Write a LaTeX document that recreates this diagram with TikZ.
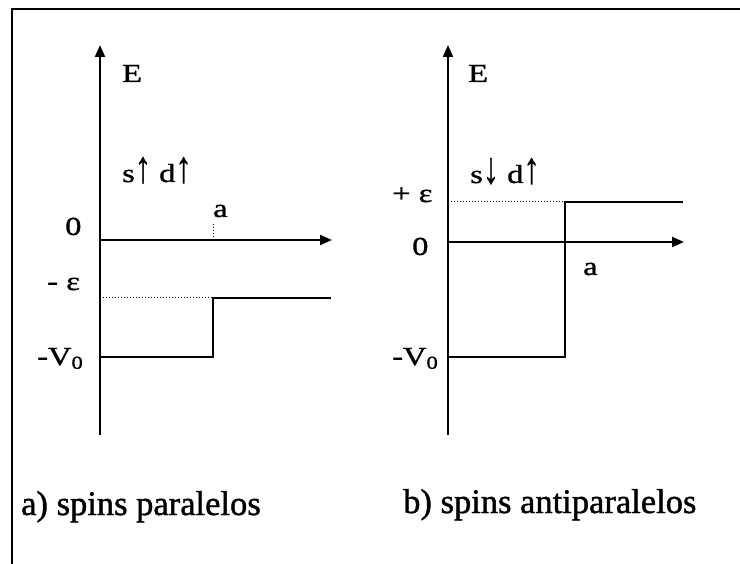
\documentclass[tikz,border=0pt]{standalone}
\usepackage{fontspec}
\setmainfont[FakeBold=1]{Liberation Serif}
\newfontfamily\lblfont[FakeStretch=1.25,FakeBold=1.2]{Liberation Serif}
\newfontfamily\capfont[FakeBold=1.2]{Liberation Serif}
\usetikzlibrary{arrows.meta}
\newcommand{\upa}{\scalebox{1}[1.7]{↑}}
\newcommand{\dna}{\scalebox{1}[1.7]{↓}}
\begin{document}
\begin{tikzpicture}[x=1pt,y=-1pt,
  axis/.style={line width=2pt,-{Triangle[length=12pt,width=10pt]}},
  level/.style={line width=2.6pt},
  guide/.style={line width=1pt,dotted},
  lbl/.style={inner sep=0pt,anchor=base west,font=\lblfont\fontsize{26}{30}\selectfont},
  caption/.style={inner sep=0pt,anchor=base west,font=\capfont\fontsize{34.5}{40}\selectfont}]
\useasboundingbox (0,0) rectangle (740,564);
% frame
\draw[line width=2.6pt] (12,564) -- (12,9) -- (740,9);
% ---------- left panel ----------
\coordinate (Lo) at (100,240);
\coordinate (Lb) at (100,435);
\coordinate (Lt) at (100,45);
\coordinate (Lx) at (332,240);
\coordinate (La0) at (100,357);
\coordinate (La1) at (213,357);
\coordinate (La2) at (213,298);
\coordinate (La3) at (331,298);
\coordinate (Le) at (100,298);
\coordinate (Lt1) at (213,224);
\coordinate (Lt2) at (213,240);
\draw[axis] (Lb) -- (Lt);
\draw[axis] (Lo) -- (Lx);
\draw[level] (La0) -- (La1) -- (La2) -- (La3);
\draw[guide] (Le) -- (La2);
\draw[guide] (Lt1) -- (Lt2);
\node[lbl] (LE) at (122,82) {E};
\node[lbl] (Lsd) at (122,182) {s\upa\ d\upa};
\node[lbl] (La) at (213,217) {a};
\node[lbl] (L0) at (65,235) {0};
\node[lbl] (Leps) at (47,290) {- ε};
\node[lbl] (LV) at (37,365) {-V\textsubscript{0}};
\node[caption] (Lcap) at (21,515) {a) spins paralelos};
% ---------- right panel ----------
\coordinate (Ro) at (448,242);
\coordinate (Rb) at (448,435);
\coordinate (Rt) at (448,45);
\coordinate (Rx) at (684,242);
\coordinate (Ra0) at (448,357);
\coordinate (Ra1) at (565,357);
\coordinate (Ra2) at (565,202);
\coordinate (Ra3) at (683,202);
\coordinate (Re) at (448,202);
\draw[axis] (Rb) -- (Rt);
\draw[axis] (Ro) -- (Rx);
\draw[level] (Ra0) -- (Ra1) -- (Ra2) -- (Ra3);
\draw[guide] (Re) -- (Ra2);
\node[lbl] (RE) at (468,82) {E};
\node[lbl] (Rsd) at (470,183) {s\dna\ d\upa};
\node[lbl] (Reps) at (392,202) {+ ε};
\node[lbl] (R0) at (412,255) {0};
\node[lbl] (Ra) at (583,275) {a};
\node[lbl] (RV) at (392,365) {-V\textsubscript{0}};
\node[caption] (Rcap) at (403,513) {b) spins antiparalelos};
\end{tikzpicture}
\end{document}
